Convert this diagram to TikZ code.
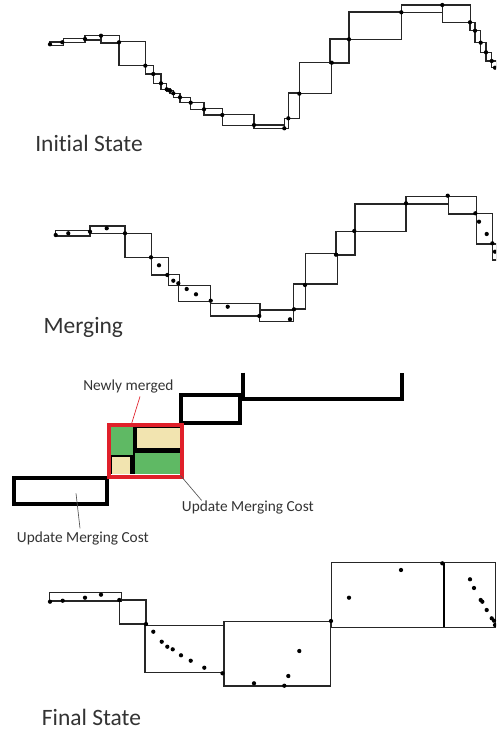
\documentclass[tikz,border=0pt]{standalone}
\usepackage{fontspec}
\setmainfont{Carlito}[Ligatures=NoCommon]
\definecolor{txt}{HTML}{333333}
\definecolor{cellgreen}{HTML}{5FB964}
\definecolor{cellyellow}{HTML}{F2E4B0}
\definecolor{mergered}{HTML}{E0202A}
\definecolor{leader}{HTML}{555555}
\begin{document}
\begin{tikzpicture}[x=0.75pt,y=-0.75pt,
  box/.style={draw=black!85, line width=0.95pt},
  thickbox/.style={draw=black, line width=3pt},
  heading/.style={anchor=base west, inner sep=0pt, text=txt, font=\fontsize{17.6}{20}\selectfont},
  note/.style={anchor=base west, inner sep=0pt, text=txt, font=\fontsize{11.5}{13}\selectfont},
  leaderline/.style={draw=leader, line width=0.5pt}]
\useasboundingbox (0,0) rectangle (496,734);
\clip (0,0) rectangle (496,734);

% ---------------- Panel 1: Initial State ----------------
\foreach \a/\b/\c/\d in {49.3/42/63.3/45.5, 63.3/38.7/85/42.7, 85/35.7/101/40, 101/35.3/119.3/43,
  119/41.7/145.3/65.7, 145.3/65.7/153.3/74, 153.3/74/161/83.3, 161/83.3/166.7/89.3,
  166.7/88.5/170.5/91.5, 170/90.7/173.3/93.3, 173.3/93.3/180/97.3, 180/97.3/190.7/102.7,
  190.7/102.7/204/109.3, 204/108.3/222.3/115, 222.3/114.3/254/125.5, 254/125/284.3/128.3,
  284.3/118.3/288.3/128.3, 288.3/93/299.3/118.3, 299.3/62.5/331.7/93.3, 330/39/349/63,
  349/12/401.3/39.3, 401.3/5/442.3/12.3, 442.3/5/470.3/22.5, 470/22.3/475/30.7,
  475/30.7/480.7/42.7, 480.7/42.7/486/52.3, 486/52.3/491.7/61, 491.7/61/497/67.7}
  \draw[box] (\a,\b) rectangle (\c,\d);
\foreach \x/\y in {50/44.3, 62.3/42.3, 85/39, 101/35.7, 119/42.3, 145.3/65.7, 153.3/74, 161/83.3,
  166.7/89.3, 170/90.7, 173.3/93.3, 180/97.3, 190.7/102.7, 204/109.3, 222.3/115, 254/125,
  284.3/128.3, 288.3/118.3, 299.3/93.7, 331.7/62.7, 349/39.3, 401.3/12.3, 442.3/5, 470/22.3,
  475/30.7, 480.7/42.7, 486/52.3, 491.7/61, 495/67.7}
  \fill (\x,\y) circle (1.6pt);
\node[heading] (t1) at (35,151.7) {Initial State};

% ---------------- Panel 2: Merging ----------------
\foreach \a/\b/\c/\d in {55.7/230.7/90/236, 90/226/125/233.3, 125/233.3/151.3/257.3,
  151.7/257.3/168.3/275, 168.3/274.3/179.3/285.7, 178.3/285.7/210.7/301.7,
  210.7/303.3/260/316, 259.3/310/293.3/321.7, 293.3/284/305.7/309, 305.7/253.3/337.3/284,
  336/231.7/355/255, 355/204/406/231.7, 406/196.7/448.3/204, 448.3/196.7/476.7/214,
  476.7/213.3/492.3/244, 492.3/244/497/260}
  \draw[box] (\a,\b) rectangle (\c,\d);
\foreach \x/\y in {55.7/235, 68.3/233.3, 90/231.7, 106.7/228.3, 125/233.3, 151/257.3, 159/265.3,
  167.3/275, 173.3/280.7, 178.3/283.3, 186.7/289, 196/294.3, 210.7/300.7, 227.7/306.7,
  259.3/316, 290/319.3, 294/309.3, 305/285, 336/254.7, 354.3/231, 406/203.3, 447.7/195.7,
  475.3/213.3, 479/221.7, 486.7/234, 492.3/243.3, 495/251.7}
  \fill (\x,\y) circle (1.6pt);
\node[heading] (t2) at (43.3,333.3) {Merging};

% ---------------- Panel 3: merge detail ----------------
% left box
\draw[thickbox] (13.7,477.7) rectangle (107.3,504);
% upper left box
\draw[thickbox] (181.3,395.3) rectangle (239.7,423);
% upper open box
\draw[thickbox] (243,372.7) -- (243,398.7) -- (401.7,398.7) -- (401.7,372.7);
% merged region: black separators, cells
\fill[black] (110.7,427.3) rectangle (180,474.3);
\fill[cellgreen]  (110.7,427.3) rectangle (133.3,455);
\fill[cellyellow] (137.3,427.5) rectangle (180,448.3);
\fill[cellyellow] (111.7,456.7) rectangle (130,474.3);
\fill[cellgreen]  (135,453.3) rectangle (180,474.3);
\draw[draw=mergered, line width=3pt] (108.7,425.3) rectangle (182,477);

\node[note] (nm) at (83,390.7) {Newly merged};
\coordinate (nmA) at (140,396.5);
\coordinate (nmB) at (131.7,423.3);
\draw[mergered, line width=0.5pt] (nmA) -- (nmB);

\node[note] (uc1) at (181.7,511) {Update Merging Cost};
\coordinate (uc1A) at (180.5,475.5);
\coordinate (uc1B) at (201.7,500.5);
\draw[leaderline] (uc1A) -- (uc1B);

\node[note] (uc2) at (16.7,542.3) {Update Merging Cost};
\coordinate (uc2A) at (76,493.3);
\coordinate (uc2B) at (80,528.3);
\draw[leaderline] (uc2A) -- (uc2B);

% ---------------- Panel 4: Final State ----------------
\foreach \a/\b/\c/\d in {49.3/592.3/121.7/601, 119.3/600/146/624, 145/625.7/224.3/672.7,
  224/621.7/330.7/686, 331.7/562.7/444/627.3, 444/562.7/495.6/627.3}
  \draw[box] (\a,\b) rectangle (\c,\d);
\draw[black, line width=1.8pt] (444,562.7) -- (444,627.3);
\foreach \x/\y in {50/601.7, 62.7/600.7, 85/597.7, 101/594.7, 119.3/600, 146/624, 153.3/631.7,
  161.7/641.7, 167.3/646.7, 172.7/649.3, 181/655.3, 190.7/660.7, 204.3/667.7, 222.5/673.3,
  254/683.3, 284.3/685.7, 288.3/676, 299.3/651, 331/621, 349/597.7, 401/570, 442.3/563.3,
  470/579.3, 474/588, 480.7/600, 482.3/601.7, 486.7/610, 491.7/618.3, 494/620.7, 495/625}
  \fill (\x,\y) circle (1.6pt);
\node[heading] (t4) at (41.7,725) {Final State};
\end{tikzpicture}
\end{document}
